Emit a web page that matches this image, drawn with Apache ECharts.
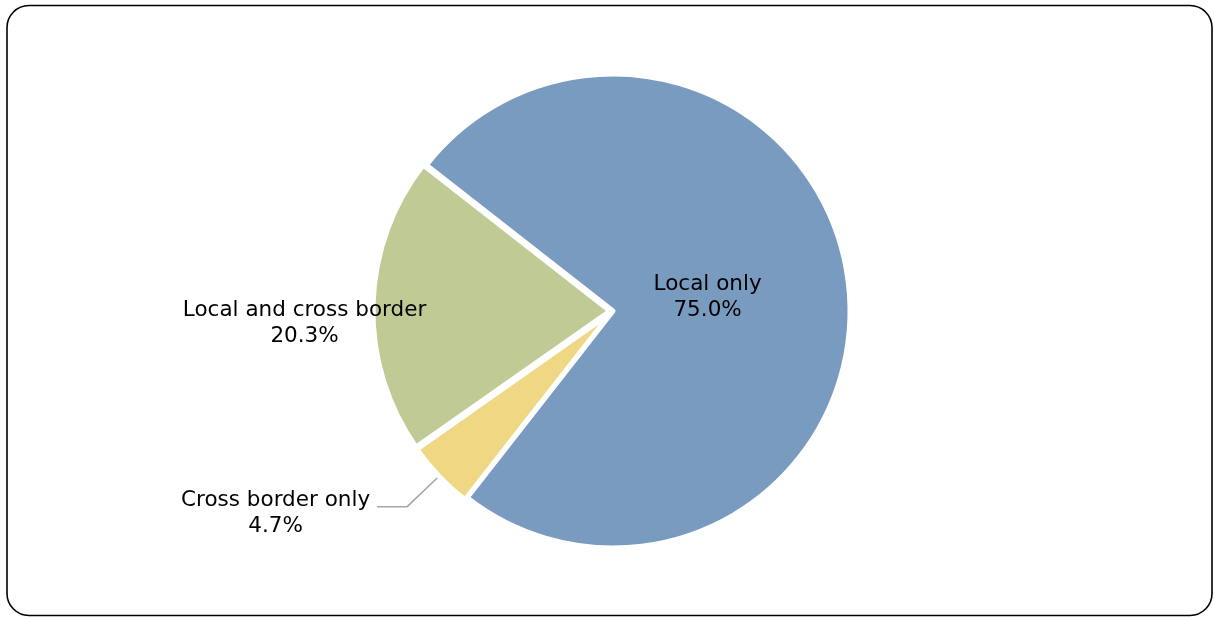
<!DOCTYPE html>
<html>
<head>
<meta charset="utf-8">
<script src="https://cdn.jsdelivr.net/npm/echarts@6/dist/echarts.min.js"></script>
<style>
  html, body { margin: 0; padding: 0; background: #fff; }
  #chart { width: 1214px; height: 617px; }
</style>
</head>
<body>
<div id="chart"></div>
<script>
// Share of firms by market reach (percent)
const categories = ['Local only', 'Cross border only', 'Local and cross border'];
const shares = [75.0, 4.7, 20.3];
const sliceColors = ['#7A9BC0', '#F0D783', '#BFCA95'];
// The two smaller slices are pulled slightly out of the pie
const pulledOut = [false, true, true];

// Per-slice label placement
const labelSetups = [
  { position: 'inside', offset: [-26, 1] },
  { position: 'outside', padding: [14, 2, 0, 0] },
  { position: 'inside', offset: [-184, 16] }
];

const FONT = '"DejaVu Sans", Verdana, sans-serif';
const FONT_SIZE = 21.5;

const data = categories.map((name, i) => {
  const setup = labelSetups[i];
  const item = {
    name: name,
    value: shares[i],
    selected: pulledOut[i],
    itemStyle: { color: sliceColors[i] },
    label: Object.assign({ show: true }, setup),
    labelLine: { show: setup.position === 'outside' }
  };
  // inside labels keep their offset while the slice is pulled out
  if (setup.offset) {
    item.select = { label: { offset: setup.offset } };
  }
  return item;
});

const chart = echarts.init(document.getElementById('chart'), null, { renderer: 'canvas' });

chart.setOption({
  backgroundColor: '#ffffff',
  animation: false,
  graphic: [{
    type: 'rect',
    shape: { x: 7, y: 5.5, width: 1205, height: 610, r: 22 },
    style: { fill: 'none', stroke: '#000', lineWidth: 1.6 },
    silent: true
  }],
  series: [{
    type: 'pie',
    center: [613, 311],
    radius: 237,
    startAngle: 142,
    clockwise: true,
    selectedMode: 'multiple',
    selectedOffset: 3,
    avoidLabelOverlap: false,
    itemStyle: { borderColor: '#ffffff', borderWidth: 5 },
    emphasis: { disabled: true },
    select: { itemStyle: { borderColor: '#ffffff', borderWidth: 5 } },
    label: {
      formatter: p => '{t|' + p.name + '}\n{t|' + p.value.toFixed(1) + '%}',
      color: '#000',
      fontFamily: FONT,
      fontSize: FONT_SIZE,
      rich: {
        t: { fontFamily: FONT, fontSize: FONT_SIZE, color: '#000', lineHeight: 26, align: 'center' }
      }
    },
    labelLine: {
      length: 44,
      length2: 30,
      smooth: false,
      lineStyle: { color: '#a6a6a6', width: 1.5 }
    },
    data: data
  }]
});
</script>
</body>
</html>
